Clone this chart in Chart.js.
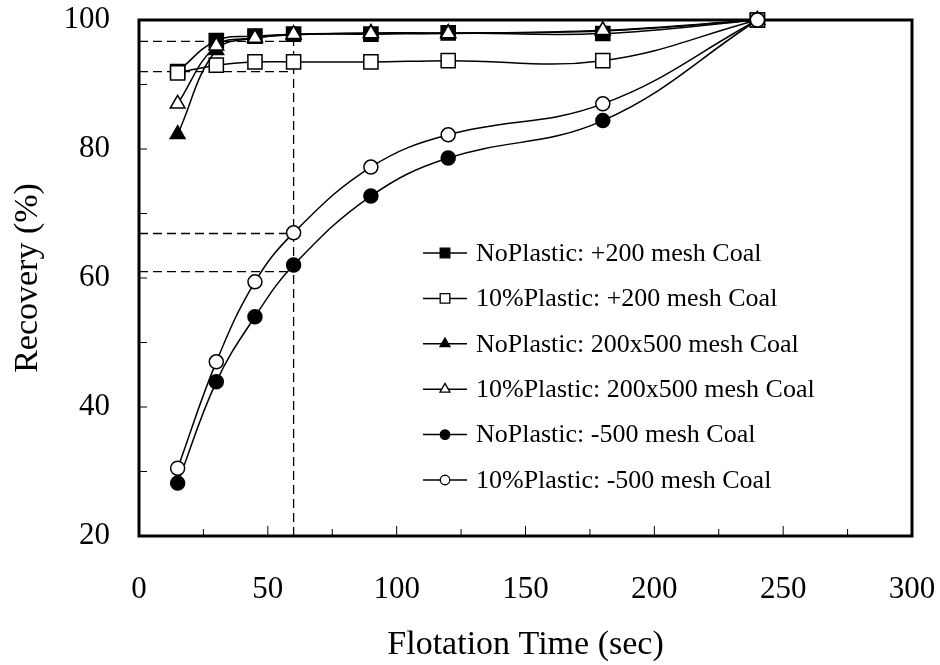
<!DOCTYPE html>
<html>
<head>
<meta charset="utf-8">
<script src="https://cdn.jsdelivr.net/npm/chart.js@4/dist/chart.umd.min.js"></script>
<style>
  body { margin: 0; background: #fff; }
  #wrap { width: 940px; height: 665px; }
</style>
</head>
<body>
<div id="wrap"><canvas id="recoveryChart"></canvas></div>
<script>
// flotation times (sec)
const times = [15, 30, 45, 60, 90, 120, 180, 240];

// cumulative recovery (%)
const noPlastic200 = [92.0, 96.8, 97.5, 97.8, 97.8, 98.0, 97.9, 100];
const plastic200 = [91.8, 93.0, 93.5, 93.5, 93.5, 93.7, 93.7, 100];
const noPlastic200x500 = [82.3, 95.3, 97.2, 97.7, 98.0, 98.0, 98.3, 100];
const plastic200x500 = [87.0, 96.0, 97.2, 97.8, 97.9, 97.9, 98.4, 100];
const noPlastic500 = [28.2, 43.9, 54.0, 62.0, 72.7, 78.6, 84.4, 100];
const plastic500 = [30.5, 47.0, 59.4, 67.0, 77.2, 82.2, 87.0, 100];

const seriesLabels = [
    'NoPlastic: +200 mesh Coal',
    '10%Plastic: +200 mesh Coal',
    'NoPlastic: 200x500 mesh Coal',
    '10%Plastic: 200x500 mesh Coal',
    'NoPlastic: -500 mesh Coal',
    '10%Plastic: -500 mesh Coal'
];

const guideTime = 60;
const guideLevels = [96.7, 92.0, 66.9, 61.0];

const xTicks = [0, 50, 100, 150, 200, 250, 300];
const yTicks = [20, 40, 60, 80, 100];

const FONT = "'Liberation Serif', 'Times New Roman', serif";

function toPoints(values) {
    return values.map((v, i) => ({ x: times[i], y: v }));
}

function series(label, values, style, filled, radius, order) {
    return {
        label: label,
        data: toPoints(values),
        legendEntry: true,
        borderColor: '#000',
        borderWidth: 1.5,
        tension: 0.4,
        pointStyle: style,
        pointRadius: radius,
        pointHoverRadius: radius,
        pointBorderWidth: 1.5,
        pointBackgroundColor: filled ? '#000' : '#fff',
        pointBorderColor: '#000',
        clip: false,
        order: order
    };
}

function guide(points) {
    return {
        data: points,
        borderColor: '#000',
        borderWidth: 1.3,
        borderDash: [9, 5],
        pointRadius: 0,
        tension: 0,
        order: 20
    };
}

const datasets = [
    series(seriesLabels[0], noPlastic200, 'rect', true, 10, 6),
    series(seriesLabels[1], plastic200, 'rect', false, 10, 5),
    series(seriesLabels[2], noPlastic200x500, 'triangle', true, 8.5, 4),
    series(seriesLabels[3], plastic200x500, 'triangle', false, 8.5, 3),
    series(seriesLabels[4], noPlastic500, 'circle', true, 7, 2),
    series(seriesLabels[5], plastic500, 'circle', false, 7, 1)
];

guideLevels.forEach(level => {
    datasets.push(guide([{ x: 0, y: level }, { x: guideTime, y: level }]));
});
datasets.push(guide([{ x: guideTime, y: 20 }, { x: guideTime, y: guideLevels[0] }]));

// box around the plot plus inward tick marks
const frame = {
    id: 'frame',
    beforeDatasetsDraw(chart) {
        const { ctx, chartArea: a, scales } = chart;
        ctx.save();
        ctx.strokeStyle = '#000';
        ctx.lineWidth = 1;
        scales.x.ticks.forEach(t => {
            const px = scales.x.getPixelForValue(t.value);
            const len = t.value % 50 === 0 ? 10 : 7;
            ctx.beginPath();
            ctx.moveTo(px, a.bottom);
            ctx.lineTo(px, a.bottom - len);
            ctx.stroke();
        });
        scales.y.ticks.forEach(t => {
            const py = scales.y.getPixelForValue(t.value);
            ctx.beginPath();
            ctx.moveTo(a.left, py);
            ctx.lineTo(a.left + 8, py);
            ctx.stroke();
        });
        ctx.lineWidth = 3;
        ctx.strokeRect(a.left, a.top, a.right - a.left, a.bottom - a.top);
        ctx.restore();
    }
};

// legend inside the plot: line sample with marker, then label
const insideLegend = {
    id: 'insideLegend',
    afterDatasetsDraw(chart) {
        const { ctx, chartArea: a } = chart;
        const x0 = a.left + 284;
        const y0 = a.top + 233;
        const rowGap = 45.4;
        ctx.save();
        ctx.font = '26px ' + FONT;
        ctx.textBaseline = 'middle';
        ctx.textAlign = 'left';
        chart.data.datasets.filter(d => d.legendEntry).forEach((d, i) => {
            const y = y0 + i * rowGap;
            ctx.strokeStyle = '#000';
            ctx.lineWidth = 1.5;
            ctx.beginPath();
            ctx.moveTo(x0, y);
            ctx.lineTo(x0 + 44, y);
            ctx.stroke();
            ctx.fillStyle = d.pointBackgroundColor;
            ctx.strokeStyle = '#000';
            ctx.lineWidth = 1.3;
            Chart.helpers.drawPoint(ctx, {
                pointStyle: d.pointStyle,
                radius: d.pointRadius * 0.68,
                rotation: 0,
                borderWidth: 1.3
            }, x0 + 22, y);
            ctx.fillStyle = '#000';
            ctx.fillText(d.label, x0 + 53, y + 1);
        });
        ctx.restore();
    }
};

new Chart(document.getElementById('recoveryChart').getContext('2d'), {
    type: 'line',
    data: { datasets: datasets },
    plugins: [frame, insideLegend],
    options: {
        responsive: true,
        maintainAspectRatio: false,
        animation: false,
        layout: { padding: { top: 20, right: 28, left: 0, bottom: 0 } },
        plugins: {
            legend: { display: false },
            tooltip: { enabled: false }
        },
        scales: {
            x: {
                type: 'linear',
                min: 0,
                max: 300,
                afterFit: scale => {
                    scale.height = 129;
                    scale.paddingLeft = 0;
                    scale.paddingRight = 0;
                },
                grid: { display: false },
                border: { display: false },
                ticks: {
                    stepSize: 25,
                    padding: 27,
                    color: '#000',
                    font: { family: FONT, size: 31 },
                    maxRotation: 0,
                    autoSkip: false,
                    callback: v => xTicks.includes(v) ? String(v) : ''
                },
                title: {
                    display: true,
                    text: 'Flotation Time (sec)',
                    color: '#000',
                    font: { family: FONT, size: 34 },
                    padding: { top: 0, bottom: 0 }
                }
            },
            y: {
                type: 'linear',
                min: 20,
                max: 100,
                afterFit: scale => {
                    scale.width = 139;
                    scale.paddingTop = 0;
                    scale.paddingBottom = 0;
                },
                grid: { display: false },
                border: { display: false },
                ticks: {
                    stepSize: 10,
                    padding: 21,
                    color: '#000',
                    font: { family: FONT, size: 31 },
                    autoSkip: false,
                    callback: v => yTicks.includes(v) ? String(v) : ''
                },
                title: {
                    display: true,
                    text: 'Recovery (%)',
                    color: '#000',
                    font: { family: FONT, size: 34 },
                    padding: { top: 8, bottom: 0 }
                }
            }
        }
    }
});
</script>
</body>
</html>
